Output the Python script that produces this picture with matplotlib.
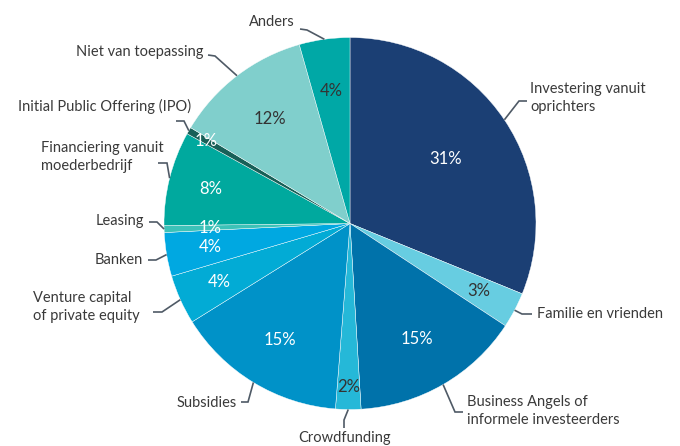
import numpy as np
import matplotlib.pyplot as plt

plt.rcParams['font.family'] = ['Lato', 'DejaVu Sans']

W, H = 680, 446

categories = [
    "Investering vanuit\noprichters",
    "Familie en vrienden",
    "Business Angels of\ninformele investeerders",
    "Crowdfunding",
    "Subsidies",
    "Venture capital\nof private equity",
    "Banken",
    "Leasing",
    "Financiering vanuit\nmoederbedrijf",
    "Initial Public Offering (IPO)",
    "Niet van toepassing",
    "Anders",
]
shares = [31.2, 3.1, 14.8, 2.2, 14.9, 4.3, 3.8, 0.6, 8.2, 0.6, 12.0, 4.4]

colors = ["#1b3f74", "#67cde1", "#0072aa", "#25b8d8", "#0092c8", "#02abd5",
          "#00a8e1", "#3cc2b8", "#00a99e", "#186058", "#80cfcc", "#00a8a6"]
pct_colors = ["white", "#333333", "white", "#333333", "white", "white",
              "white", "white", "white", "white", "#333333", "#333333"]
pct_dist = [0.62, 0.78, 0.72, 0.88, 0.73, 0.77, 0.76, 0.75, 0.77, 0.89, 0.71, 0.72]

# label layout in pixel coords (y down): elbow, line end, text anchor, ha, va
label_layout = [
    ((519, 101), (527, 101), (530, 98), "left"),
    ((522, 314), (532, 314), (537, 314), "left"),
    ((455, 412), (463, 412), (467, 411), "left"),
    ((344, 420), (344, 428), (345, 438), "center"),
    ((248, 402), (241, 402), (237, 403), "right"),
    ((162, 312), (153, 312), (33, 307), "left"),
    ((156, 260), (148, 260), (143, 260), "right"),
    ((157, 222), (149, 222), (144, 221), "right"),
    ((167, 163), (158, 163), (41, 157), "left"),
    ((184, 121), (176, 121), (191, 106), "right"),
    ((215, 56), (208, 55), (203, 52), "right"),
    ((307, 30), (300, 29), (295, 22), "right"),
]

cx, cy, R = 350, 223.5, 186


def px(x, y):
    return x, H - y


fig = plt.figure(figsize=(W / 100, H / 100), dpi=100)
ax = fig.add_axes([0, 0, 1, 1])

wedges, _ = ax.pie(shares, colors=colors, startangle=90, counterclock=False,
                   center=px(cx, cy), radius=R,
                   wedgeprops=dict(edgecolor="white", linewidth=0.3))

line_color = "#4f5a66"
for w, val, tc, d, lay, name in zip(wedges, shares, pct_colors, pct_dist,
                                    label_layout, categories):
    mid = np.deg2rad((w.theta1 + w.theta2) / 2)
    ux, uy = np.cos(mid), np.sin(mid)
    x0, y0 = px(cx, cy)
    ax.text(x0 + d * R * ux, y0 + d * R * uy, f"{val:.0f}%", color=tc,
            fontsize=12, ha="center", va="center")

    elbow, end, txt, ha = lay
    ex, ey = x0 + R * ux, y0 + R * uy
    xs = [ex, elbow[0], end[0]]
    ys = [ey, H - elbow[1], H - end[1]]
    ax.plot(xs, ys, color=line_color, lw=1.2, solid_capstyle="butt",
            solid_joinstyle="miter")
    ax.text(*px(*txt), name, color="#3a3a3a", fontsize=10.5, ha=ha,
            va="center", linespacing=1.35, multialignment="left")

ax.set_xlim(0, W)
ax.set_ylim(0, H)
ax.set_aspect("equal")
ax.axis("off")

fig.savefig("out.png", dpi=100)
